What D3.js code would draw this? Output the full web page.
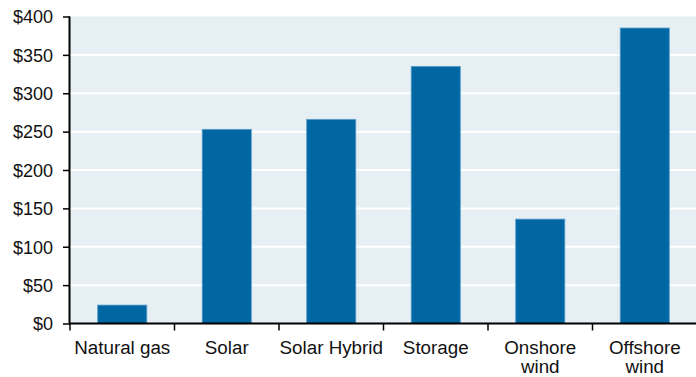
<!DOCTYPE html>
<html><head><meta charset="utf-8">
<script src="https://cdn.jsdelivr.net/npm/d3@7"></script>
<style>body{margin:0;background:#fff}svg{display:block}text{font-family:"Liberation Sans",Arial,sans-serif;fill:#111}</style>
</head><body><svg id="c" width="696" height="377"></svg>
<script>
const categories = [["Natural gas"],["Solar"],["Solar Hybrid"],["Storage"],["Onshore","wind"],["Offshore","wind"]];
const values = [24, 253, 266, 335, 136, 385];
const yTicks = [0,50,100,150,200,250,300,350,400];

const svg = d3.select("#c");
const L = 70, R = 697, T = 16.5, B = 323.5;
const x = d3.scaleBand().domain(categories.map((d,i)=>i)).range([L,R]).paddingInner(0.53).paddingOuter(0.265);
const xt = d3.scaleBand().domain(categories.map((d,i)=>i)).range([L,R]);
const y = d3.scaleLinear().domain([0,400]).range([B,T]);

svg.append("rect").attr("x",L).attr("y",T).attr("width",R-L).attr("height",B-T).attr("fill","#e6eff3");
svg.append("g").selectAll("line").data(yTicks.slice(1,-1)).join("line")
  .attr("x1",L).attr("x2",R).attr("y1",d=>y(d)).attr("y2",d=>y(d)).attr("stroke","#fff").attr("stroke-width",2);

svg.append("g").selectAll("rect").data(values).join("rect")
  .attr("x",(d,i)=>x(i)).attr("width",x.bandwidth()).attr("y",d=>y(d)).attr("height",d=>B-y(d))
  .attr("fill","#0067a2").attr("stroke","#5a9fcc").attr("stroke-width",0.8);

const ya = svg.append("g").attr("transform",`translate(${L},0)`)
  .call(d3.axisLeft(y).tickValues(yTicks).tickSize(7).tickPadding(10).tickFormat(d=>"$"+d));
ya.select(".domain").attr("d",`M-0.5,${T}V${B}`).attr("stroke","#000").attr("stroke-width",2);
ya.selectAll(".tick line").attr("stroke","#000").attr("stroke-width",1.5);
ya.selectAll("text").attr("font-size","18px").attr("fill","#111").attr("dy","0.35em");

const xa = svg.append("g").attr("transform",`translate(0,${B})`);
xa.append("line").attr("x1",L-1).attr("x2",R).attr("y1",0).attr("y2",0).attr("stroke","#000").attr("stroke-width",2);
const ticks = d3.range(categories.length+1).map(i=>L+i*xt.step());
xa.selectAll("line.t").data(ticks).join("line").attr("class","t")
  .attr("x1",d=>d).attr("x2",d=>d).attr("y1",0).attr("y2",7).attr("stroke","#000").attr("stroke-width",1.5);
const lab = xa.selectAll("text.l").data(categories).join("text").attr("class","l")
  .attr("text-anchor","middle").attr("font-size","18.8px")
  .attr("x",(d,i)=>xt(i)+xt.bandwidth()/2).attr("y",30);
lab.selectAll("tspan").data(d=>d).join("tspan")
  .attr("x",function(){return d3.select(this.parentNode).attr("x");})
  .attr("dy",(d,i)=>i===0?0:"19px").text(d=>d);
</script></body></html>
